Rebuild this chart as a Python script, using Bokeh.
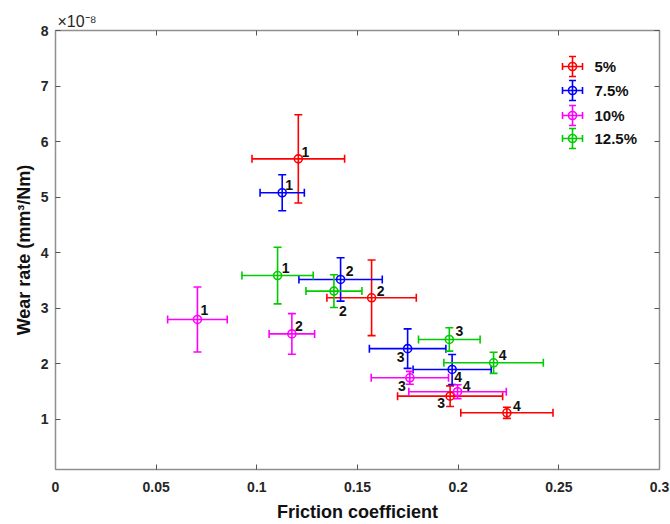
from bokeh.plotting import figure
from bokeh.models import (ColumnDataSource, Whisker, TeeHead, Range1d, LinearAxis,
                          FixedTicker, Label, Title)
from bokeh.core.properties import value
from bokeh.embed import file_html
from bokeh.resources import INLINE

# ---------------- data (wear rate in units of 1e-8 mm^3/Nm) ----------------
series_names = ["5%", "7.5%", "10%", "12.5%"]
point_ids = ["1", "2", "3", "4"]

friction_5 = [0.1206, 0.1570, 0.1960, 0.2242]
friction_err_5 = [0.0230, 0.0222, 0.0261, 0.0229]
wear_5 = [5.69, 3.19, 1.42, 1.12]
wear_err_5 = [0.795, 0.68, 0.185, 0.10]

friction_75 = [0.1126, 0.1416, 0.1749, 0.1970]
friction_err_75 = [0.0110, 0.0207, 0.0190, 0.0194]
wear_75 = [5.08, 3.52, 2.275, 1.90]
wear_err_75 = [0.325, 0.39, 0.355, 0.27]

friction_10 = [0.0705, 0.1174, 0.1760, 0.1997]
friction_err_10 = [0.0148, 0.0113, 0.0192, 0.0242]
wear_10 = [2.80, 2.54, 1.75, 1.50]
wear_err_10 = [0.585, 0.365, 0.115, 0.125]

friction_125 = [0.1103, 0.1383, 0.1956, 0.2176]
friction_err_125 = [0.0177, 0.0139, 0.0153, 0.0247]
wear_125 = [3.59, 3.31, 2.44, 2.02]
wear_err_125 = [0.51, 0.295, 0.21, 0.19]

x_ticks = [0, 0.05, 0.1, 0.15, 0.2, 0.25, 0.3]
x_tick_labels = ["0", "0.05", "0.1", "0.15", "0.2", "0.25", "0.3"]
y_ticks = [1, 2, 3, 4, 5, 6, 7, 8]
y_tick_labels = ["1", "2", "3", "4", "5", "6", "7", "8"]
exponent_text = "×10⁻⁸"

# ---------------- styles ----------------
colors = ["#ff0000", "#0000ff", "#ff00ff", "#00cc00"]
label_dx = [[7, 9, -9, 10], [7, 9, -7, 6], [7, 7, -8, 9], [8, 9, 10, 9]]
label_dy = [[-7, -7, 7, -7], [-8, -8, 8, 8], [-9, -8, 8, -6], [-8, 20, -8, -8]]

all_data = [
    (friction_5, friction_err_5, wear_5, wear_err_5),
    (friction_75, friction_err_75, wear_75, wear_err_75),
    (friction_10, friction_err_10, wear_10, wear_err_10),
    (friction_125, friction_err_125, wear_125, wear_err_125),
]

W, H = 670, 524
BL, BR, BT, BB = 55, 11, 30, 55
FW, FH = W - BL - BR, H - BT - BB
X0, X1, Y0, Y1 = 0.0, 0.3, 0.1, 8.0

p = figure(width=W, height=H, x_range=Range1d(X0, X1), y_range=Range1d(Y0, Y1),
           output_backend="svg", toolbar_location=None,
           min_border_left=BL, min_border_right=BR, min_border_top=BT, min_border_bottom=BB)
p.grid.visible = False
p.outline_line_color = None
p.background_fill_color = "white"

AX_COLOR = "#8f8f8f"
TICK_FONT = "Liberation Sans"


def style_axis(ax):
    ax.axis_line_color = AX_COLOR
    ax.axis_line_width = 1.5
    ax.major_tick_line_color = "#555555"
    ax.major_tick_in = 5
    ax.major_tick_out = 0
    ax.minor_tick_line_color = None
    ax.major_label_text_font = TICK_FONT
    ax.major_label_text_font_style = "bold"
    ax.major_label_text_font_size = "14px"
    ax.major_label_text_color = "#262626"


xt = FixedTicker(ticks=x_ticks)
yt = FixedTicker(ticks=y_ticks)

xa = p.xaxis[0]
style_axis(xa)
xa.ticker = xt
xa.major_label_overrides = {t: l for t, l in zip(x_ticks, x_tick_labels)}
xa.major_label_standoff = 12
xa.axis_label = "Friction coefficient"
xa.axis_label_text_font = TICK_FONT
xa.axis_label_text_font_style = "bold"
xa.axis_label_text_font_size = "18px"
xa.axis_label_text_color = "#111111"
xa.axis_label_standoff = 7

ya = p.yaxis[0]
style_axis(ya)
ya.ticker = yt
ya.major_label_overrides = {t: l for t, l in zip(y_ticks, y_tick_labels)}
ya.major_label_standoff = 7
ya.axis_label = "Wear rate (mm³/Nm)"
ya.axis_label_text_font = TICK_FONT
ya.axis_label_text_font_style = "bold"
ya.axis_label_text_font_size = "18px"
ya.axis_label_text_color = "#111111"
ya.axis_label_standoff = 4

for loc, tk in (("above", xt), ("right", yt)):
    ax = LinearAxis(ticker=tk)
    style_axis(ax)
    ax.major_label_text_font_size = "0px"
    ax.major_label_standoff = 0
    ax.major_label_text_color = None
    p.add_layout(ax, loc)

# exponent multiplier shown above the top-left corner
p.add_layout(Title(text=exponent_text, align="left", offset=2, standoff=2,
                   text_font=TICK_FONT, text_font_style="normal",
                   text_font_size="16px", text_color="#262626"), "above")

# ---------------- data marks ----------------
for i, (fx, fxe, wy, wye) in enumerate(all_data):
    c = colors[i]
    src = ColumnDataSource(dict(
        x=fx, y=wy,
        xl=[a - b for a, b in zip(fx, fxe)], xu=[a + b for a, b in zip(fx, fxe)],
        yl=[a - b for a, b in zip(wy, wye)], yu=[a + b for a, b in zip(wy, wye)],
        lab=point_ids, dx=label_dx[i], dy=label_dy[i],
    ))
    for dim, base, lo, up in (("width", "y", "xl", "xu"), ("height", "x", "yl", "yu")):
        wk = Whisker(source=src, base=base, lower=lo, upper=up, dimension=dim,
                     line_color=c, line_width=1.6,
                     lower_head=TeeHead(size=8, line_color=c, line_width=1.6),
                     upper_head=TeeHead(size=8, line_color=c, line_width=1.6))
        p.add_layout(wk)
    p.scatter("x", "y", source=src, marker="circle", size=8, fill_color=None,
              line_color=c, line_width=1.6)
    p.text("x", "y", text="lab", source=src, x_offset="dx", y_offset="dy",
           text_align="center", text_baseline="middle",
           text_font=value(TICK_FONT), text_font_style="bold",
           text_font_size="14px", text_color="#111111")

# ---------------- legend (drawn with the same errorbar style) ----------------
px_x = (X1 - X0) / FW
px_y = (Y1 - Y0) / FH
leg_icon_px = 517          # from frame left
leg_text_px = 539
leg_rows_px = [36, 60, 85, 108]  # from frame top
for i, name in enumerate(series_names):
    c = colors[i]
    lx = X0 + leg_icon_px * px_x
    ly = Y1 - leg_rows_px[i] * px_y
    lsrc = ColumnDataSource(dict(x=[lx], y=[ly],
                                 xl=[lx - 10 * px_x], xu=[lx + 10 * px_x],
                                 yl=[ly - 10 * px_y], yu=[ly + 10 * px_y]))
    for dim, base, lo, up in (("width", "y", "xl", "xu"), ("height", "x", "yl", "yu")):
        p.add_layout(Whisker(source=lsrc, base=base, lower=lo, upper=up, dimension=dim,
                             line_color=c, line_width=1.6,
                             lower_head=TeeHead(size=7, line_color=c, line_width=1.6),
                             upper_head=TeeHead(size=7, line_color=c, line_width=1.6)))
    p.scatter("x", "y", source=lsrc, marker="circle", size=8, fill_color=None,
              line_color=c, line_width=1.6)
    p.add_layout(Label(x=X0 + leg_text_px * px_x, y=ly, text=name,
                       text_font=TICK_FONT, text_font_style="bold",
                       text_font_size="15px", text_color="#111111",
                       text_baseline="middle", text_align="left"))

open("out.html", "w").write(file_html(p, INLINE))
